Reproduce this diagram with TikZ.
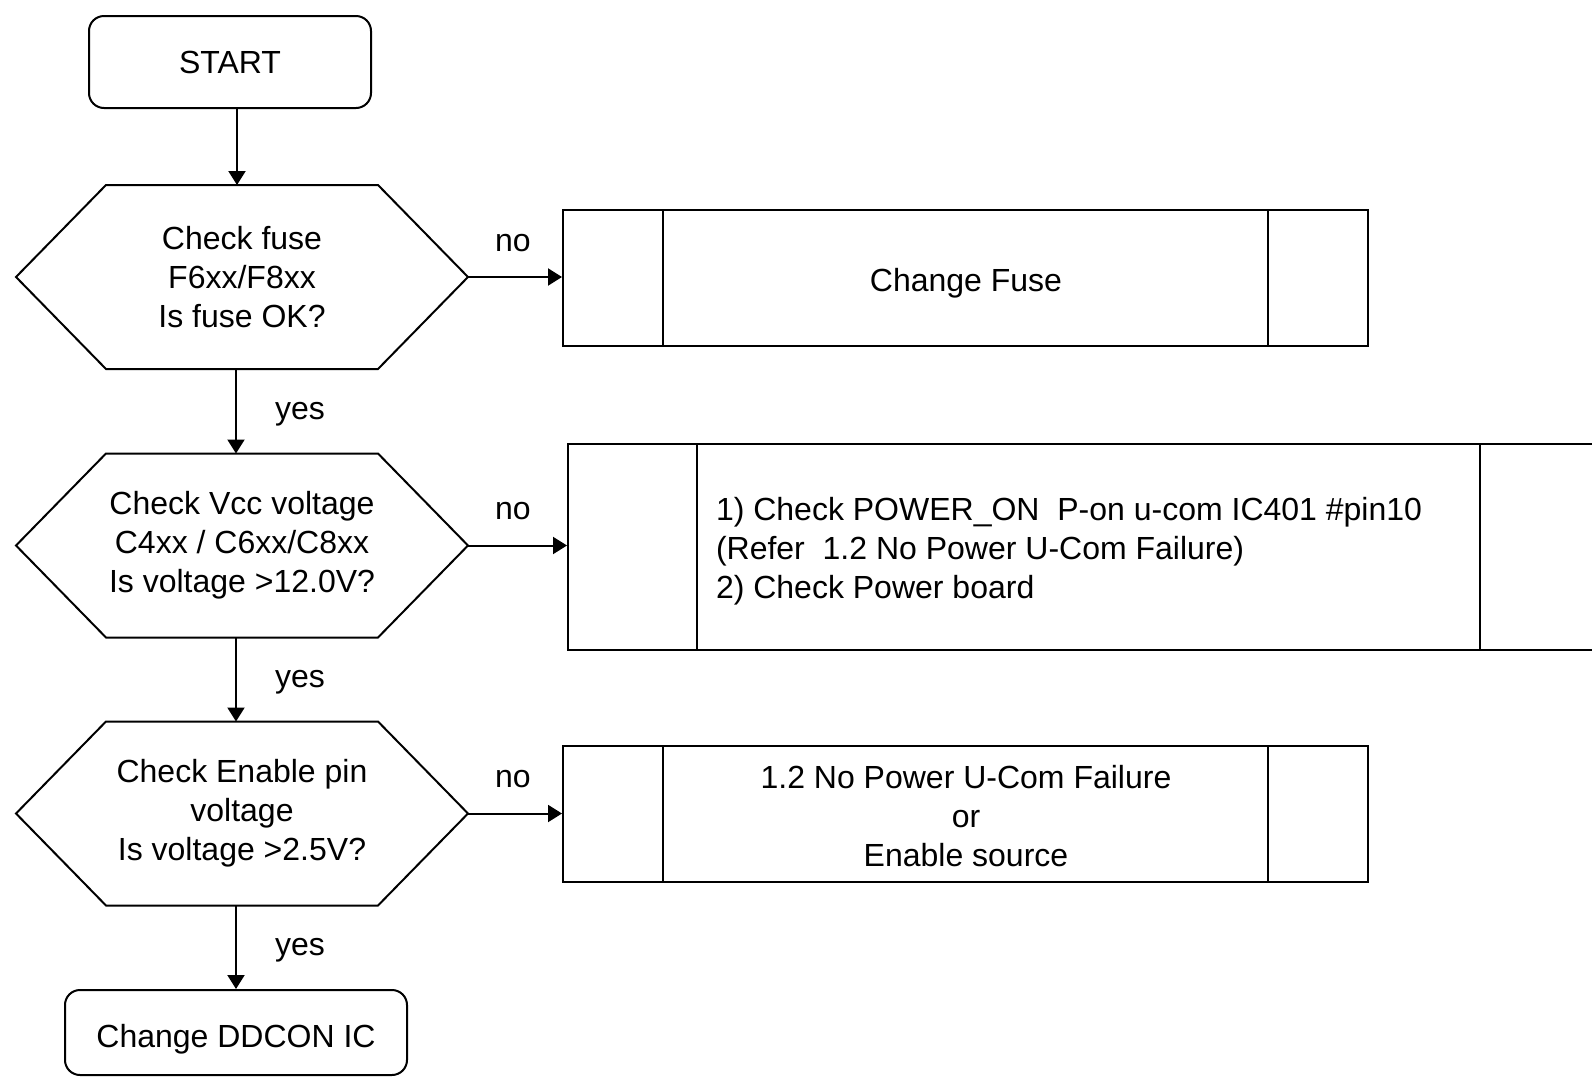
\documentclass[tikz,border=0pt]{standalone}
\usepackage{fontspec}
\setmainfont{Liberation Sans}
\usetikzlibrary{arrows.meta,calc}
\begin{document}
\begin{tikzpicture}[x=0.5pt,y=-0.5pt,
  font=\fontsize{16}{19.5}\selectfont,
  line width=1pt,
  arr/.style={-{Triangle[length=7pt,width=8.5pt]}},
  term/.style={draw,rounded corners=7.5pt,inner sep=0pt,align=center},
  hexa/.style={inner sep=0pt,minimum width=225pt,minimum height=91pt,align=center},
  procbox/.style={draw,inner sep=0pt,align=center},
  lbl/.style={inner sep=0pt}]
\useasboundingbox (0,0) rectangle (1592,1077);
\clip (0,0) rectangle (1592,1077);
% start
\node[term,minimum width=141pt,minimum height=46pt] (start) at (230,62) {START};
% hexagons
\node[hexa] (h1) at (242,277) {Check fuse\\F6xx/F8xx\\Is fuse OK?};
\node[hexa] (h2) at (242,545.5) {Check Vcc voltage\\C4xx / C6xx/C8xx\\Is voltage >12.0V?};
\node[hexa] (h3) at (242,813.5) {Check Enable pin\\voltage\\Is voltage >2.5V?};
\foreach \h in {h1,h2,h3}{
  \draw (\h.west) -- ($(\h.north west)+(45pt,0)$) -- ($(\h.north east)-(45pt,0)$)
     -- (\h.east) -- ($(\h.south east)-(45pt,0)$) -- ($(\h.south west)+(45pt,0)$) -- cycle;
}
% end
\node[term,minimum width=171pt,minimum height=42.5pt] (fin) at (236,1032.5) {};
\node[lbl] (fint) at (236,1039) {Change DDCON IC};
% process boxes
\node[procbox,minimum width=402.5pt,minimum height=68pt] (b1) at (965.5,278) {};
\node[lbl] (b1t) at (966,283) {Change Fuse};
\node[procbox,minimum width=520.5pt,minimum height=103pt] (b2) at (1088.5,547) {};
\node[lbl,anchor=west,align=left] (b2t) at (715,551) {1) Check POWER\_ON\ \ P-on u-com IC401 \#pin10\\(Refer\ \ 1.2 No Power U-Com Failure)\\2) Check Power board};
\node[procbox,minimum width=402.5pt,minimum height=68pt] (b3) at (965.5,814) {};
\node[lbl,align=center] (b3t) at (966,816) {1.2 No Power U-Com Failure\\or\\Enable source};
% inner side lines
\foreach \b/\d in {b1/50.5pt,b2/65pt,b3/50.5pt}{
  \draw ($(\b.north west)+(\d,0)$) -- ($(\b.south west)+(\d,0)$);
  \draw ($(\b.north east)-(\d,0)$) -- ($(\b.south east)-(\d,0)$);
}
% vertical connectors
\coordinate (s0) at ($(start.south)+(3.5pt,0)$);
\draw[arr] (s0) -- (s0 |- h1.north);
\coordinate (s1) at ($(h1.south)-(3pt,0)$);
\draw[arr] (s1) -- (s1 |- h2.north);
\coordinate (s2) at ($(h2.south)-(3pt,0)$);
\draw[arr] (s2) -- (s2 |- h3.north);
\coordinate (s3) at ($(h3.south)-(3pt,0)$);
\draw[arr] (s3) -- (s3 |- fin.north);
% horizontal connectors
\draw[arr] (h1.east) -- (h1.east -| b1.west);
\draw[arr] (h2.east) -- (h2.east -| b2.west);
\draw[arr] (h3.east) -- (h3.east -| b3.west);
% labels
\node[lbl] (n1) at (513,243) {no};
\node[lbl] (n2) at (513,511) {no};
\node[lbl] (n3) at (513,779) {no};
\node[lbl] (y1) at (300,414) {yes};
\node[lbl] (y2) at (300,682) {yes};
\node[lbl] (y3) at (300,950) {yes};
\end{tikzpicture}
\end{document}
